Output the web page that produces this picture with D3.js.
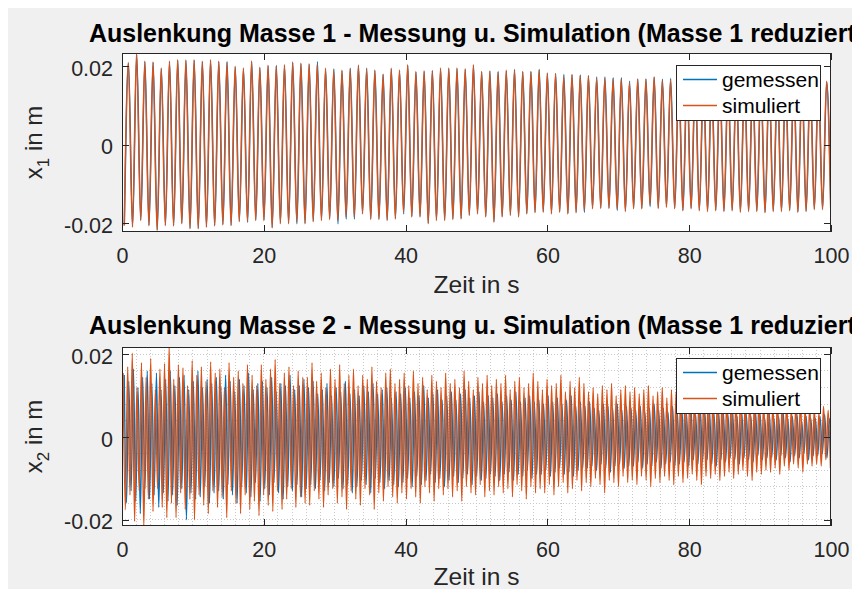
<!DOCTYPE html>
<html><head><meta charset="utf-8">
<script src="https://cdn.jsdelivr.net/npm/d3@7"></script>
<style>
body{margin:0;background:#fff;}
svg{display:block;font-family:"Liberation Sans",Arial,Helvetica,sans-serif;}
</style>
</head><body>
<svg id="chart" width="857" height="589"></svg>
<script>
// ---------------- DATA ----------------
const xTickValues = [0, 20, 40, 60, 80, 100];
const yTickValues = [-0.02, 0, 0.02];
const seriesNames = ["gemessen", "simuliert"];
const titles = [
  "Auslenkung Masse 1 - Messung u. Simulation (Masse 1 reduziert)",
  "Auslenkung Masse 2 - Messung u. Simulation (Masse 1 reduziert)"
];
const xLabel = "Zeit in s";

// Mass 1: extreme values (mm) of each half-oscillation
const x1SimPeaks = [21.0,23.4,21.3,21.1,19.6,21.3,21.7,21.6,21.7,21.3,
 21.7,21.3,21.0,20.0,19.6,21.4,19.8,20.3,20.0,20.4,
 21.1,20.8,20.7,20.4,19.5,19.1,19.0,19.3,20.2,19.3,
 19.1,17.9,19.5,19.1,20.4,18.7,18.9,18.9,19.6,19.6,
 19.6,19.4,20.4,
 18.7,18.7,18.5,19.0,19.1,18.7,18.7,19.1,18.3,18.1,17.4,17.9,17.6,17.6,17.0,17.0,16.8,16.8,15.8,16.8,16.8,17.3,16.4,16.6,
 16.5,16.7,16.4,16.6,16.3,16.5,16.2,16.4,16.6,16.3,16.1,16.4,16.2,16.5,16.0,16.3,16.1,16.2,
 16.2];
const x1SimTroughs = [-20.7,-21.1,-19.4,-20.7,-21.9,-20.7,-20.8,-20.2,-21.5,-21.5,
 -21.1,-20.8,-20.5,-20.7,-19.7,-19.6,-19.4,-19.4,-21.3,-20.2,
 -20.2,-19.8,-20.2,-19.7,-19.4,-19.1,-19.4,-18.5,-18.5,-17.7,
 -19.1,-19.1,-19.4,-19.0,-17.3,-18.5,-18.5,-20.2,-19.4,-19.4,
 -19.1,-19.0,-18.1,-17.7,
 -18.5,-19.8,-18.5,-18.1,-18.5,-17.7,-17.4,-17.3,-17.7,-17.3,
 -17.7,-17.4,-16.9,-16.4,-16.3,-16.3,-16.4,-17.1,-16.4,-16.4,
 -15.4,-16.3,-16.0,-16.4,-16.9,-16.4,-16.9,-17.1,-16.9,-17.1,
 -16.9,-17.3,-17.1,-17.1,-17.4,-17.1,-17.1,-16.9,-17.3,-17.1,
 -16.6,-16.6,-16.3];
const x1MeasPeaks = [20.8,23.0,21.1,20.9,19.4,21.1,21.5,21.4,21.5,21.1,
 21.5,21.1,21.2,19.8,19.4,21.2,19.6,20.1,20.2,20.2,
 20.9,20.6,20.5,21.2,19.3,19.3,18.8,19.5,20.3,19.5,
 18.9,18.0,19.3,18.9,20.2,18.5,18.7,18.9,19.4,19.4,
 19.4,19.2,20.2,
 18.6,18.8,18.7,18.8,19.2,18.6,18.6,19.2,18.2,18.2,17.9,17.8,17.8,17.6,17.3,17.3,17.1,17.1,16.2,16.7,16.7,17.2,16.7,16.9,
 16.6,16.7,16.5,16.6,16.4,16.5,16.3,16.4,16.6,16.3,16.2,16.4,16.2,16.5,16.1,16.3,16.1,16.2,
 16.0];
const x1MeasTroughs = [-20.5,-20.9,-19.2,-20.5,-21.7,-20.5,-20.6,-20.0,-21.3,-21.3,
 -20.9,-20.6,-20.3,-20.5,-19.5,-19.8,-19.2,-19.2,-21.1,-20.0,
 -20.0,-20.2,-20.0,-19.5,-19.2,-18.9,-20.2,-19.0,-19.0,-17.5,
 -18.9,-18.9,-19.2,-18.8,-17.7,-18.3,-18.3,-20.0,-19.2,-19.2,
 -18.9,-18.8,-17.9,-17.5,
 -18.3,-19.6,-18.3,-17.9,-18.3,-17.5,-17.2,-17.1,-17.5,-17.1,
 -17.5,-17.2,-17.3,-16.2,-16.1,-16.1,-16.8,-16.9,-16.2,-16.2,
 -15.8,-16.1,-15.8,-16.2,-16.7,-16.2,-16.7,-16.9,-16.7,-16.9,
 -16.7,-17.1,-16.9,-16.9,-17.2,-16.9,-16.9,-16.7,-17.1,-16.9,
 -16.4,-16.4,-16.1];
const x1HalfPeriod = 0.5793;   // s between extremes
const x1SimStart = 0.31, x1MeasStart = 0.34;

// Mass 2: extreme values (mm)
const x2SimPeaks = [15.5,17.0,20.3,12.0,18.0,14.5,19.0,11.5,16.5,17.8,
 22.2,14.0,17.5,16.8,12.5,18.5,15.0,17.0,13.5,18.2,
 15.5,16.5,12.0,18.0,14.5,16.0,13.0,17.5,15.0,12.5,
 17.5,14.0,16.5,18.8,13.0,15.5,17.0,12.5,16.0,14.5,
 14.5,18.0,13.5,15.5,12.0,16.5,14.0,17.5,13.0,15.0,
 16.5,12.5,15.0,14.0,17.0,13.5,12.0,15.5,16.5,13.0,
 14.0,15.5,12.5,16.0,13.0,14.5,11.5,15.0,13.5,12.0,
 15.5,13.0,14.0,12.0,16.0,13.5,11.5,14.5,13.0,15.0,
 12.5,14.0,13.0,15.0,11.5,13.5,14.5,12.0,13.0,15.5,
 13.5,11.5,14.0,12.5,13.0,15.0,11.0,13.5,12.0,14.5,
 13.0,11.0,12.0,10.5,12.5,11.5,13.0,10.0,11.5,12.5,
 11.0,12.0,10.5,11.5,12.5,10.0,11.0,12.0,9.5,11.5,
 11.0,10.0,12.0,10.5,9.5,11.5,10.0,11.0,9.0,10.5,
 10.0,9.0,11.0,9.5,10.5,8.5,10.0,9.0,9.5,8.5,
 9.5,8.0,9.0,7.5,8.5,7.0,8.0,9.0,7.0,7.5,
 7.0,6.0,7.5,6.5];
const x2SimTroughs = [-17.6,-14.0,-20.4,-13.0,-21.7,-15.0,-18.0,-12.5,-17.0,-19.5,
 -16.0,-19.5,-13.5,-17.5,-15.0,-20.0,-14.0,-16.5,-18.5,-13.0,
 -17.0,-14.5,-19.5,-13.0,-16.0,-18.5,-14.0,-17.5,-15.5,-19.0,
 -14.0,-16.5,-18.0,-13.0,-17.5,-15.0,-12.5,-17.0,-14.5,-16.0,
 -16.5,-13.0,-15.0,-17.0,-14.0,-12.5,-16.0,-14.5,-17.5,-13.0,
 -15.0,-16.5,-12.5,-14.0,-17.5,-13.5,-15.5,-12.0,-14.5,-16.0,
 -13.5,-15.0,-12.5,-14.5,-16.0,-12.0,-13.5,-15.5,-12.5,-14.0,
 -12.5,-14.5,-13.0,-15.5,-12.0,-13.5,-14.0,-11.5,-14.5,-13.0,
 -14.0,-12.0,-13.5,-12.5,-14.5,-11.5,-13.0,-15.0,-12.0,-13.5,
 -12.5,-13.5,-11.5,-14.0,-12.0,-11.0,-13.5,-12.5,-10.5,-13.0,
 -11.0,-12.0,-10.0,-11.5,-13.5,-10.5,-11.0,-12.0,-9.5,-11.0,
 -10.5,-11.5,-9.5,-10.5,-12.0,-10.0,-11.0,-9.5,-10.5,-11.5,
 -9.5,-11.0,-10.0,-9.0,-10.5,-11.5,-9.5,-10.0,-9.0,-10.5,
 -9.5,-8.5,-10.0,-9.0,-8.0,-9.5,-10.5,-8.5,-9.0,-8.0,
 -8.5,-7.5,-9.0,-7.0,-8.0,-6.5,-7.5,-8.5,-6.5,-7.0,
 -6.5,-7.0,-5.5,-7.5];
const x2MeasPeaks = [15.0,13.5,16.5,12.0,14.5,16.0,13.0,15.5,11.5,14.0,
 16.0,12.5,14.5,15.0,11.5,13.5,16.0,12.0,14.0,13.0,
 14.5,12.0,15.0,13.5,11.0,14.0,12.5,15.5,11.5,13.0,
 13.5,12.0,14.5,11.0,13.0,12.5,15.0,11.5,12.5,14.0,
 12.0,13.5,10.5,11.5,13.0,10.0,12.0,11.0,13.5,10.5,
 11.5,10.0,12.5,11.0,13.0,10.5,11.5,12.0,9.5,11.0,
 10.5,12.0,9.5,11.0,10.0,12.5,9.5,10.5,11.5,9.0,
 10.0,11.0,9.0,10.5,11.5,9.5,10.0,11.0,8.5,10.0,
 9.5,10.5,8.5,10.0,9.0,11.0,8.5,9.5,10.0,8.5,
 9.0,8.0,10.0,8.5,9.5,8.0,9.0,10.0,7.5,8.5,
 7.5,8.5,7.0,6.5,8.0,7.5,7.0,8.0,6.5,7.5,
 7.0,6.5,7.5,6.0,7.0,8.0,6.5,7.0,6.0,7.5,
 6.5,7.0,6.0,6.5,5.5,7.0,6.0,6.5,5.5,6.0,
 6.0,5.5,6.5,5.0,6.0,5.5,5.0,6.0,5.5,4.5,
 5.5,4.5,5.0,6.0,4.5,5.0,5.5,4.0,5.0,4.5,
 4.5,5.0,5.5,4.5];
const x2MeasTroughs = [-16.0,-13.0,-15.5,-18.5,-12.5,-15.0,-14.0,-17.0,-13.5,-15.5,
 -14.0,-16.5,-12.5,-20.0,-13.5,-15.0,-14.5,-12.0,-16.0,-13.5,
 -13.0,-15.0,-11.5,-14.0,-16.0,-12.0,-13.5,-14.5,-11.0,-15.5,
 -12.5,-14.0,-11.0,-13.5,-15.0,-12.0,-13.0,-11.5,-14.5,-12.5,
 -11.5,-12.5,-10.5,-13.0,-11.0,-12.0,-10.0,-12.5,-11.5,-13.5,
 -12.0,-10.5,-11.5,-13.5,-10.0,-11.0,-12.5,-10.5,-11.5,-12.0,
 -11.0,-10.0,-12.0,-9.5,-11.5,-10.5,-9.0,-11.0,-10.0,-12.0,
 -10.5,-9.5,-11.0,-10.0,-9.0,-11.5,-9.5,-10.5,-10.0,-9.0,
 -9.5,-10.5,-9.0,-8.5,-10.5,-9.0,-9.5,-8.0,-10.0,-9.0,
 -9.0,-8.0,-9.5,-8.5,-7.5,-9.0,-8.5,-9.5,-8.0,-7.5,
 -7.5,-7.0,-8.0,-6.5,-7.5,-8.5,-7.0,-6.5,-7.5,-7.0,
 -7.0,-6.0,-7.5,-6.5,-7.0,-6.0,-7.5,-6.5,-6.0,-7.0,
 -6.5,-6.0,-7.0,-5.5,-6.5,-6.0,-5.5,-6.5,-7.0,-5.5,
 -6.0,-5.0,-5.5,-6.5,-5.0,-5.5,-6.0,-4.5,-5.5,-5.0,
 -5.0,-5.5,-4.5,-5.0,-6.0,-4.5,-5.0,-4.0,-5.5,-4.5,
 -4.5,-4.0,-5.0,-4.5];
const x2HalfPeriod = 0.325;
const x2SimStart = 0.15, x2MeasStart = 0.31;

// ---------------- DRAWING ----------------
const W = 857, H = 589;
const colMeas = "#0072BD", colSim = "#D95319", axisCol = "#262626";
const svg = d3.select("#chart");
const defs = svg.append("defs");
defs.append("clipPath").attr("id", "figClip").append("rect")
  .attr("x", 8).attr("y", 8).attr("width", 844).attr("height", H - 8);
svg.append("rect").attr("width", W).attr("height", H).attr("fill", "#fff");
const fig = svg.append("g").attr("clip-path", "url(#figClip)");
fig.append("rect").attr("x", 8).attr("y", 8).attr("width", 844).attr("height", H - 8).attr("fill", "#f0f0f0");

function alternate(a, b) {
  const out = [];
  for (let i = 0; i < Math.max(a.length, b.length); i++) {
    if (i < a.length) out.push(a[i]);
    if (i < b.length) out.push(b[i]);
  }
  return out;
}

const left = 122, right = 831;
const x = d3.scaleLinear().domain([0, 100]).range([left, right]);

function panel(cfg, idx) {
  const y = d3.scaleLinear().domain(cfg.yDomain).range([cfg.bottom, cfg.top]);
  const g = fig.append("g");
  const clipId = "axClip" + idx;
  defs.append("clipPath").attr("id", clipId).append("rect")
    .attr("x", left).attr("y", cfg.top).attr("width", right - left).attr("height", cfg.bottom - cfg.top);
  g.append("rect").attr("x", left).attr("y", cfg.top).attr("width", right - left)
    .attr("height", cfg.bottom - cfg.top).attr("fill", "#fff");

  if (cfg.grid) {
    const gg = g.append("g").attr("stroke", "#c9c9c9").attr("stroke-width", 1)
      .attr("stroke-dasharray", "1,2").attr("shape-rendering", "crispEdges");
    d3.range(2, 100, 2).forEach(v => {
      gg.append("line").attr("x1", x(v)).attr("x2", x(v)).attr("y1", cfg.top).attr("y2", cfg.bottom);
    });
    d3.range(-0.02, 0.0201, 0.004).forEach(v => {
      gg.append("line").attr("x1", left).attr("x2", right).attr("y1", y(v)).attr("y2", y(v));
    });
  }

  const line = d3.line().x(d => x(d[0])).y(d => y(d[1])).curve(d3.curveMonotoneX);
  const lines = g.append("g").attr("clip-path", `url(#${clipId})`).attr("fill", "none");
  const measPts = cfg.meas.map((v, i) => [cfg.measStart + i * cfg.step, v / 1000]);
  const simPts = cfg.sim.map((v, i) => [cfg.simStart + i * cfg.step, v / 1000]);
  lines.append("path").attr("d", line(measPts)).attr("stroke", colMeas).attr("stroke-width", 1.4);
  lines.append("path").attr("d", line(simPts)).attr("stroke", colSim).attr("stroke-width", 1.4);

  // axes (inward ticks on all four sides)
  const fmt = d => d === 0 ? "0" : String(d);
  const axB = g.append("g").attr("transform", `translate(0,${cfg.bottom})`)
    .call(d3.axisBottom(x).tickValues(xTickValues).tickSizeInner(-7).tickSizeOuter(0).tickPadding(16).tickFormat(fmt));
  const axT = g.append("g").attr("transform", `translate(0,${cfg.top})`)
    .call(d3.axisTop(x).tickValues(xTickValues).tickSizeInner(-7).tickSizeOuter(0).tickFormat(""));
  const axL = g.append("g").attr("transform", `translate(${left},0)`)
    .call(d3.axisLeft(y).tickValues(yTickValues).tickSizeInner(-7).tickSizeOuter(0).tickPadding(9).tickFormat(fmt));
  const axR = g.append("g").attr("transform", `translate(${right},0)`)
    .call(d3.axisRight(y).tickValues(yTickValues).tickSizeInner(-7).tickSizeOuter(0).tickFormat(""));
  [axB, axT, axL, axR].forEach(a => {
    a.select(".domain").remove();
    a.selectAll("line").attr("stroke", axisCol).attr("shape-rendering", "crispEdges");
    a.selectAll("text").attr("fill", axisCol).style("font-size", "21.5px")
      .style("font-family", '"Liberation Sans",Arial,Helvetica,sans-serif');
  });
  axL.selectAll("text").attr("dy", "0.42em");
  axB.selectAll("text").attr("dy", "0.71em");

  g.append("rect").attr("x", left + 0.5).attr("y", cfg.top + 0.5).attr("width", right - left - 1)
    .attr("height", cfg.bottom - cfg.top - 1).attr("fill", "none").attr("stroke", axisCol).attr("stroke-width", 1);

  // title
  g.append("text").attr("x", (left + right) / 2).attr("y", cfg.titleY).attr("text-anchor", "middle")
    .style("font-size", "25px").style("font-weight", "bold").attr("fill", "#000").text(cfg.title);
  // x label
  g.append("text").attr("x", (left + right) / 2).attr("y", cfg.xLabelY).attr("text-anchor", "middle")
    .style("font-size", "24.5px").attr("fill", axisCol).text(xLabel);
  // y label
  const yl = g.append("text").attr("transform", `translate(42,${(cfg.top + cfg.bottom) / 2}) rotate(-90)`)
    .attr("text-anchor", "middle").style("font-size", "24px").attr("fill", axisCol);
  yl.append("tspan").text("x");
  yl.append("tspan").attr("dy", 7).style("font-size", "17px").text(cfg.sub);
  yl.append("tspan").attr("dy", -7).text(" in m");

  // legend
  const lg = g.append("g").attr("transform", `translate(676,${cfg.legendTop})`);
  lg.append("rect").attr("x", 0.5).attr("y", 0.5).attr("width", 144).attr("height", 55)
    .attr("fill", "#fff").attr("stroke", axisCol).attr("stroke-width", 1);
  [[seriesNames[0], colMeas, 14.5], [seriesNames[1], colSim, 40.5]].forEach(([name, c, ly]) => {
    lg.append("line").attr("x1", 7).attr("x2", 41).attr("y1", ly).attr("y2", ly).attr("stroke", c).attr("stroke-width", 1.4);
    lg.append("text").attr("x", 46).attr("y", ly).attr("dy", "0.35em").style("font-size", "21px")
      .attr("fill", "#000").text(name);
  });
}

panel({
  top: 53, bottom: 232, yDomain: [-0.0223, 0.0234], title: titles[0], titleY: 41.7, xLabelY: 293,
  sub: "1", legendTop: 65, grid: false, step: x1HalfPeriod,
  meas: alternate(x1MeasTroughs, x1MeasPeaks), sim: alternate(x1SimTroughs, x1SimPeaks),
  measStart: x1MeasStart, simStart: x1SimStart
}, 0);
panel({
  top: 347, bottom: 526, yDomain: [-0.0215, 0.0218], title: titles[1], titleY: 334.3, xLabelY: 585,
  sub: "2", legendTop: 358, grid: true, step: x2HalfPeriod,
  meas: alternate(x2MeasPeaks, x2MeasTroughs), sim: alternate(x2SimPeaks, x2SimTroughs),
  measStart: x2MeasStart, simStart: x2SimStart
}, 1);
</script>
</body></html>
